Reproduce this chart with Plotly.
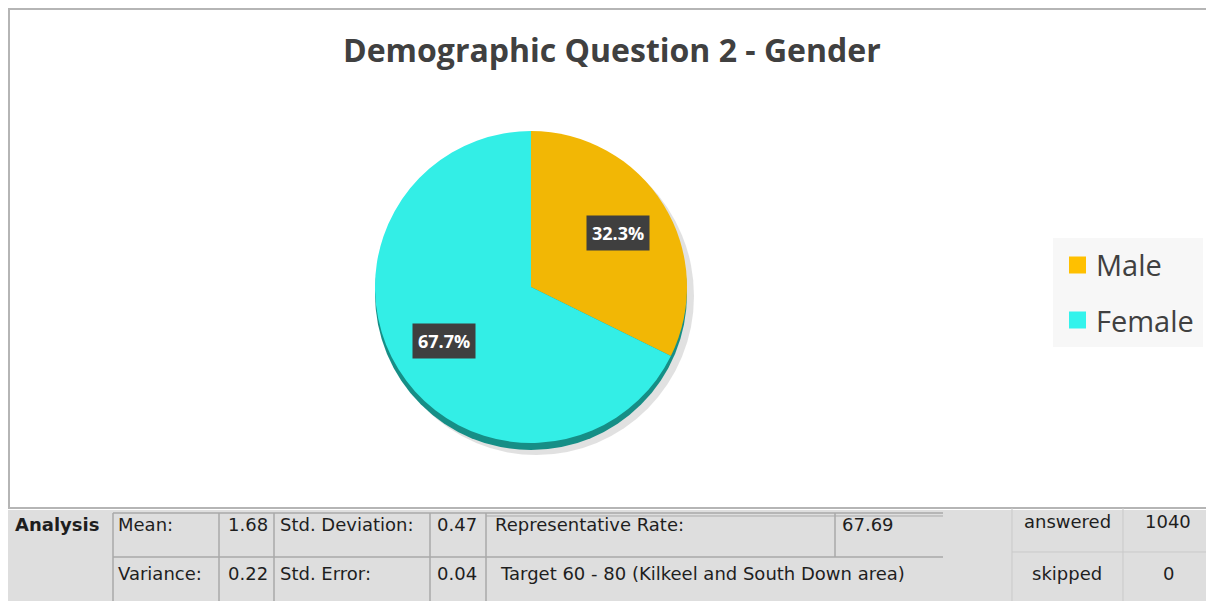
import math
import plotly.graph_objects as go

# ---------------- data ----------------
categories = ["Male", "Female"]
values = [32.3, 67.7]
colors = ["#F2B705", "#33EEE6"]
legend_colors = ["#FFC000", "#33F3EC"]
title_text = "Demographic Question 2 - Gender"

stat_names_row1 = ["Mean:", "Std. Deviation:"]
stat_values_row1 = ["1.68", "0.47"]
stat_names_row2 = ["Variance:", "Std. Error:"]
stat_values_row2 = ["0.22", "0.04"]
rep_rate_label = "Representative Rate:"
rep_rate_value = "67.69"
target_text = "Target 60 - 80 (Kilkeel and South Down area)"
count_labels = ["answered", "skipped"]
count_values = ["1040", "0"]

# ---------------- helpers (page pixel -> paper); page body has 8px margin ----------------
OFF = 8
W, H = 1214 - OFF, 601 - OFF
def X(p):
    return (p - OFF) / W
def Y(p):
    return 1 - (p - OFF) / H

fig = go.Figure()

cx, cy, r = 531, 287, 156
fig.add_trace(go.Pie(
    labels=categories, values=values, sort=False, direction="clockwise",
    rotation=0, marker=dict(colors=colors, line=dict(width=0)),
    textinfo="none", hoverinfo="label+percent", showlegend=False,
    domain=dict(x=[X(cx - r), X(cx + r)], y=[Y(cy + r), Y(cy - r)]),
))

shapes = []
annotations = []

# chart border
shapes.append(dict(type="rect", xref="paper", yref="paper", x0=X(9), x1=X(1222), y0=Y(508), y1=Y(9),
                   line=dict(color="#b5b5b5", width=2), fillcolor="white", layer="below"))
# soft shadow and 3D rim
shapes.append(dict(type="circle", xref="paper", yref="paper", x0=X(cx - r + 4), x1=X(cx + r + 7),
                   y0=Y(cy + r + 12), y1=Y(cy - r + 6), line=dict(width=0),
                   fillcolor="rgba(120,120,120,0.22)", layer="below"))
shapes.append(dict(type="circle", xref="paper", yref="paper", x0=X(cx - r), x1=X(cx + r),
                   y0=Y(cy + r + 7), y1=Y(cy - r + 7), line=dict(width=0),
                   fillcolor="#168E86", layer="below"))

# slice labels computed from values
total = sum(values)
cum = 0
for lab, v in zip(categories, values):
    mid = (cum + v / 2) / total * 2 * math.pi
    cum += v
    rr = 0.66 * r
    px = cx + rr * math.sin(mid)
    py = cy - rr * math.cos(mid)
    annotations.append(dict(xref="paper", yref="paper", x=X(px), y=Y(py), xanchor="center",
                            yanchor="middle", showarrow=False,
                            text="<b>%.1f%%</b>" % (v / total * 100),
                            font=dict(family="Open Sans", size=18, color="white"),
                            bgcolor="#3f3f3f", borderpad=5))

# title
annotations.append(dict(xref="paper", yref="paper", x=X(612), y=Y(50), xanchor="center",
                        yanchor="middle", showarrow=False,
                        text="<b>" + title_text + "</b>",
                        font=dict(family="Open Sans", size=32, color="#404040")))

# manual legend
shapes.append(dict(type="rect", xref="paper", yref="paper", x0=X(1053), x1=X(1203), y0=Y(347), y1=Y(238),
                   line=dict(width=0), fillcolor="#f7f7f7", layer="below"))
for i, (lab, col) in enumerate(zip(categories, legend_colors)):
    yc = 265 + i * 55
    shapes.append(dict(type="rect", xref="paper", yref="paper", x0=X(1069), x1=X(1086),
                       y0=Y(yc + 8.5), y1=Y(yc - 8.5), line=dict(width=0), fillcolor=col))
    annotations.append(dict(xref="paper", yref="paper", x=X(1094), y=Y(yc), xanchor="left",
                            yanchor="middle", showarrow=False, text=lab,
                            font=dict(family="Open Sans", size=29, color="#404040")))

# ---------------- analysis table ----------------
shapes.append(dict(type="rect", xref="paper", yref="paper", x0=-0.1, x1=1.1, y0=-0.1, y1=Y(510),
                   line=dict(width=0), fillcolor="#dedede", layer="below"))
lc = "#a9a9a9"
def hline(x0, x1, y, color=lc, w=1.5):
    shapes.append(dict(type="line", xref="paper", yref="paper", x0=X(x0), x1=X(x1), y0=Y(y), y1=Y(y),
                       line=dict(color=color, width=w)))
def vline(x, y0, y1, color=lc, w=1.5):
    shapes.append(dict(type="line", xref="paper", yref="paper", x0=X(x), x1=X(x), y0=Y(y0), y1=Y(y1),
                       line=dict(color=color, width=w)))

hline(113, 943, 513)
hline(486, 943, 516, w=1)
hline(113, 943, 557)
for xv in [113, 219, 274, 430, 486]:
    vline(xv, 513, 605)
vline(835, 513, 557)

lc2 = "#c9c9c9"
hline(1012, 1210, 552, color=lc2, w=1)
for xv in [1012, 1123, 1208]:
    vline(xv, 508, 605, color=lc2, w=1)

tfont = dict(family="DejaVu Sans", size=18, color="#1e1e1e")
def txt(s, x, y, anchor="left"):
    annotations.append(dict(xref="paper", yref="paper", x=X(x), y=Y(y), xanchor=anchor,
                            yanchor="middle", showarrow=False, text=s, font=tfont))

txt("<b>Analysis</b>", 13, 524)
row_y = [524, 573]
for ri, (names, vals) in enumerate([(stat_names_row1, stat_values_row1), (stat_names_row2, stat_values_row2)]):
    txt(names[0], 116, row_y[ri])
    txt(vals[0], 270, row_y[ri], "right")
    txt(names[1], 278, row_y[ri])
    txt(vals[1], 479, row_y[ri], "right")
txt(rep_rate_label, 493, row_y[0])
txt(rep_rate_value, 840, row_y[0])
txt(target_text, 498, row_y[1])
count_y = [521, 573]
for lab, val, yy in zip(count_labels, count_values, count_y):
    txt(lab, 1067, yy, "center")
    txt(val, 1168, yy, "center")

fig.update_layout(width=W, height=H, margin=dict(l=0, r=0, t=0, b=0),
                  paper_bgcolor="white", plot_bgcolor="white",
                  shapes=shapes, annotations=annotations)
fig.write_html("out.html")
